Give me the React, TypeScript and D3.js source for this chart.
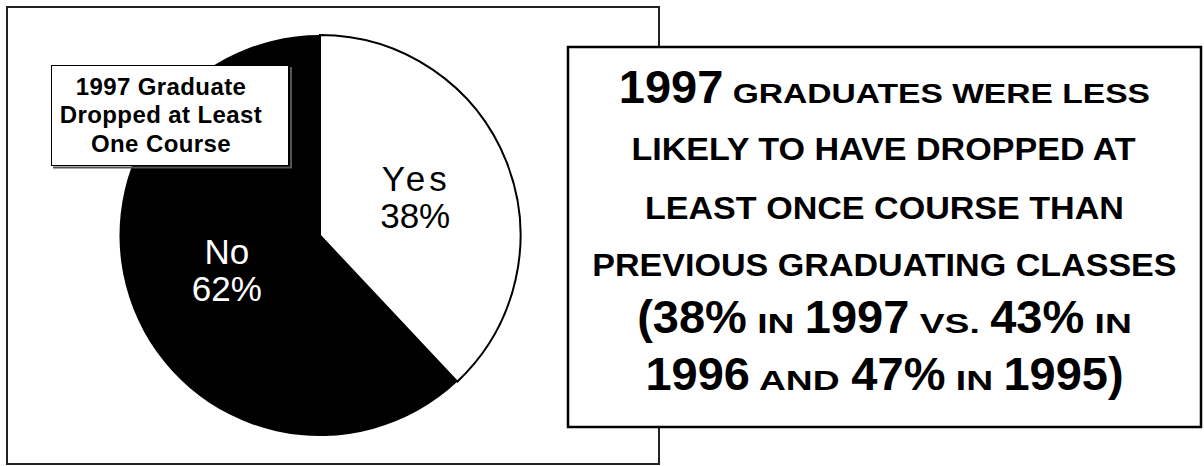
import React from 'react';
import * as d3 from 'd3';

// pie data
const sliceLabels = ['Yes', 'No'];
const sliceValues = [38, 62];
const sliceFill = ['#ffffff', '#000000'];
const sliceText = ['#000000', '#ffffff'];

const legendLines = ['1997 Graduate', 'Dropped at Least', 'One Course'];

// callout text: b = big numbers, s = small caps, m = regular caps
type Seg = { t: string; k: 'b' | 's' | 'm' };
const calloutLines: Seg[][] = [
  [{ t: '1997', k: 'b' }, { t: ' GRADUATES WERE LESS', k: 's' }],
  [{ t: 'LIKELY TO HAVE DROPPED AT', k: 'm' }],
  [{ t: 'LEAST ONCE COURSE THAN', k: 'm' }],
  [{ t: 'PREVIOUS GRADUATING CLASSES', k: 'm' }],
  [
    { t: '(38%', k: 'b' }, { t: ' IN ', k: 's' }, { t: '1997', k: 'b' },
    { t: ' VS. ', k: 's' }, { t: '43%', k: 'b' }, { t: ' IN', k: 's' },
  ],
  [
    { t: '1996', k: 'b' }, { t: ' AND ', k: 's' }, { t: '47%', k: 'b' },
    { t: ' IN ', k: 's' }, { t: '1995)', k: 'b' },
  ],
];

const W = 1204;
const H = 466;
const FONT = 'Arial, "Liberation Sans", Helvetica, sans-serif';

let ctx: CanvasRenderingContext2D | null = null;
function measure(text: string, size: number) {
  if (!ctx) ctx = document.createElement('canvas').getContext('2d');
  if (!ctx) return text.length * size * 0.6;
  ctx.font = `bold ${size}px ${FONT}`;
  return ctx.measureText(text).width;
}

const App: React.FC = () => {
  // pie geometry
  const cx = 320;
  const cy = 235.5;
  const r = 200.5;

  const pie = d3.pie<number>().sort(null).startAngle(0).endAngle(2 * Math.PI);
  const arcs = pie(sliceValues);
  const arc = d3.arc<d3.PieArcDatum<number>>().innerRadius(0).outerRadius(r);

  // callout box
  const box = { x: 568, y: 47, w: 633, h: 380 };
  const boxCx = box.x + box.w / 2;
  const baselines = [103, 160, 219, 276, 333, 390];

  const styleFor = (k: string, line: number) => {
    if (k === 'b') return { size: 47, sx: 1 };
    if (k === 'm') return { size: 32, sx: 1.065 };
    return line === 0 ? { size: 28, sx: 1.2 } : { size: 27, sx: 1.38 };
  };

  const calloutTexts: React.ReactNode[] = [];
  calloutLines.forEach((segs, li) => {
    const sized = segs.map(s => {
      const st = styleFor(s.k, li);
      return { ...s, ...st, w: measure(s.t, st.size) * st.sx };
    });
    const total = d3.sum(sized, d => d.w);
    let x = boxCx - total / 2;
    sized.forEach((s, si) => {
      calloutTexts.push(
        <text
          key={`c${li}-${si}`}
          transform={`translate(${x},${baselines[li]}) scale(${s.sx},1)`}
          fontSize={s.size}
          fontWeight="bold"
          style={{ whiteSpace: 'pre' }}
        >
          {s.t}
        </text>
      );
      x += s.w;
    });
  });

  return (
    <svg
      width={W}
      height={H}
      viewBox={`0 0 ${W} ${H}`}
      style={{ position: 'absolute', left: 0, top: 0, background: '#fff', fontFamily: FONT }}
    >
      {/* outer frame of pie panel */}
      <rect x={7} y={7} width={652} height={457} fill="#fff" stroke="#222" strokeWidth={2} />

      {/* pie */}
      <g transform={`translate(${cx},${cy})`}>
        {arcs.map((a, i) => (
          <path
            key={sliceLabels[i]}
            d={arc(a) || ''}
            fill={sliceFill[i]}
            stroke="#000"
            strokeWidth={i === 0 ? 2 : 0}
          />
        ))}
        {arcs.map((a, i) => {
          const [lx, ly] = arc.centroid(a);
          const ls = i === 0 ? 4 : 0;
          return (
            <g key={`l${i}`} fill={sliceText[i]} fontSize={35} textAnchor="middle">
              <text x={lx + ls / 2 + (i === 0 ? 1 : 0)} y={ly - 8} letterSpacing={ls}>{sliceLabels[i]}</text>
              <text x={lx + (i === 0 ? 2 : 0)} y={ly + 29}>{`${sliceValues[i]}%`}</text>
            </g>
          );
        })}
      </g>

      {/* legend box */}
      <line x1={291} y1={67} x2={291} y2={168} stroke="#555" strokeWidth={2} />
      <line x1={53} y1={167.5} x2={292} y2={167.5} stroke="#555" strokeWidth={2} />
      <rect x={51.5} y={65.5} width={237} height={100} fill="#fff" stroke="#000" strokeWidth={1} />
      {legendLines.map((t, i) => (
        <text
          key={t}
          x={161}
          y={94.5 + i * 28.8}
          textAnchor="middle"
          fontSize={24}
          fontWeight="bold"
          letterSpacing={0.4}
        >
          {t}
        </text>
      ))}

      {/* callout box */}
      <rect x={box.x} y={box.y} width={box.w} height={box.h} fill="#fff" stroke="#000" strokeWidth={2.5} />
      {calloutTexts}
    </svg>
  );
};

export default App;
